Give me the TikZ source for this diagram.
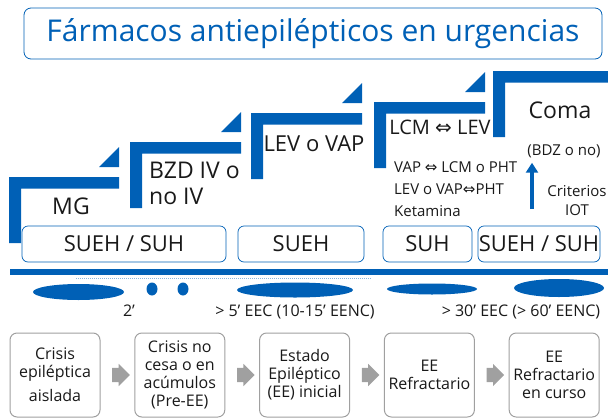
\documentclass[tikz,border=0pt]{standalone}
\usepackage{fontspec}
\setmainfont{Open Sans}
\newfontfamily\arrowfont{DejaVu Sans}
\usetikzlibrary{positioning,shapes.arrows,arrows.meta}
\definecolor{farmblue}{RGB}{0,96,182}
\definecolor{stagegray}{RGB}{160,160,160}
\newcommand{\dbl}{{\arrowfont ⇔}}

\begin{document}
\begin{tikzpicture}[x=1pt,y=-1pt,node distance=62.4pt,on grid,
    every node/.style={inner sep=0pt,text=black!90},
    titlebox/.style={draw=farmblue,line width=0.8pt,rounded corners=7pt,text=farmblue,
      minimum width=578pt,minimum height=51pt,font=\fontsize{30}{32}\selectfont},
    steplabel/.style={font=\fontsize{23}{26}\selectfont},
    drugs/.style={font=\fontsize{15}{22}\selectfont},
    phase/.style={draw=farmblue,line width=0.7pt,rounded corners=6pt,minimum height=36pt,
      font=\fontsize{22}{24}\selectfont},
    timing/.style={font=\fontsize{16}{18}\selectfont,anchor=base},
    stage/.style={draw=stagegray,line width=1pt,rounded corners=7pt,minimum width=90pt,
      minimum height=84pt,align=center,font=\fontsize{16}{18}\selectfont},
    next/.style={single arrow,fill=stagegray,inner xsep=5pt,inner ysep=7pt,
      single arrow head extend=4pt,single arrow head indent=0pt}]
  \useasboundingbox (0,0) rectangle (608,418);

  % title
  \node[titlebox] (title) at (313,33.5) {Fármacos antiepilépticos en urgencias};

  % steps
  \foreach \x/\y/\w in {9/177/110, 130/142/111, 251/113/111, 374/102/111, 493/71/115}
    \fill[farmblue] (\x,\y) -- ++(\w,0) -- ++(0,11.5) -- (\x+12,\y+11.5)
      -- (\x+12,\y+66) -- (\x,\y+66) -- cycle;
  \foreach \x/\y in {119/177, 241/142, 362/113, 485/102}
    \fill[farmblue] (\x,\y-10) -- ++(-20,0) -- ++(20,-20) -- cycle;

  \node[steplabel] (mg) at (71,206.5) {MG};
  \node[steplabel,align=left,anchor=west] (bzd) at (149,183) {BZD IV o\\no IV};
  \node[steplabel,font=\fontsize{22}{24}\selectfont] (lev) at (314,143.5) {LEV o VAP};
  \node[steplabel,font=\fontsize{20}{24}\selectfont] (lcm) at (440,127) {LCM \dbl{} LEV};
  \node[steplabel] (coma) at (560,110.5) {Coma};
  \node[drugs] (bdz) at (564,151) {(BDZ o no)};
  \node[drugs,align=left,anchor=west] (refr) at (394,189.5)
    {VAP \dbl{} LCM o PHT\\LEV o VAP\dbl{}PHT\\Ketamina};
  \node[drugs,align=center,font=\fontsize{15}{19}\selectfont] (crit) at (577,201) {Criterios\\IOT};
  \coordinate (iot) at (532,209);
  \draw[farmblue,line width=3.5pt,-{Triangle[width=12pt,length=10pt]},shorten >=5pt]
    (iot) -- (iot |- bdz.south);

  % treatment settings
  \node[phase,minimum width=204pt] (p1) at (124,244) {SUEH / SUH};
  \node[phase,minimum width=126pt] (p2) at (301,244) {SUEH};
  \node[phase,minimum width=89pt]  (p3) at (427.5,244) {SUH};
  \node[phase,minimum width=122pt] (p4) at (539,244) {SUEH / SUH};

  % time line
  \fill[farmblue] (10,269) rectangle (608,275);
  \draw[farmblue!45,line width=0.8pt,dash pattern=on 1pt off 1pt] (76,278) -- (372,278);
  \fill[farmblue] (78.5,292) ellipse [x radius=45.5pt,y radius=8pt];
  \fill[farmblue] (152,289) ellipse [x radius=5.5pt,y radius=6.5pt];
  \fill[farmblue] (183,289) ellipse [x radius=5.5pt,y radius=6.5pt];
  \fill[farmblue] (295,290) ellipse [x radius=58pt,y radius=7.5pt];
  \fill[farmblue] (432,289) ellipse [x radius=45pt,y radius=5.5pt];
  \fill[farmblue] (559,288) ellipse [x radius=45pt,y radius=9pt];
  \node[timing] (t1) at (129,316) {2’};
  \node[timing] (t2) at (295,316) {> 5’ EEC (10-15’ EENC)};
  \node[timing] (t3) at (521,316) {> 30’ EEC (> 60’ EENC)};

  % stages
  \node[stage] (s1) at (55,375) {Crisis\\epiléptica\\[6pt]aislada};
  \node[next]  (a1) [right=of s1] {};
  \node[stage] (s2) [right=of a1] {Crisis no\\cesa o en\\acúmulos\\(Pre-EE)};
  \node[next]  (a2) [right=of s2] {};
  \node[stage] (s3) [right=of a2] {Estado\\Epiléptico\\(EE) inicial};
  \node[next]  (a3) [right=of s3] {};
  \node[stage] (s4) [right=of a3] {EE\\Refractario};
  \node[next]  (a4) [right=of s4] {};
  \node[stage] (s5) [right=of a4] {EE\\Refractario\\en curso};
\end{tikzpicture}
\end{document}
